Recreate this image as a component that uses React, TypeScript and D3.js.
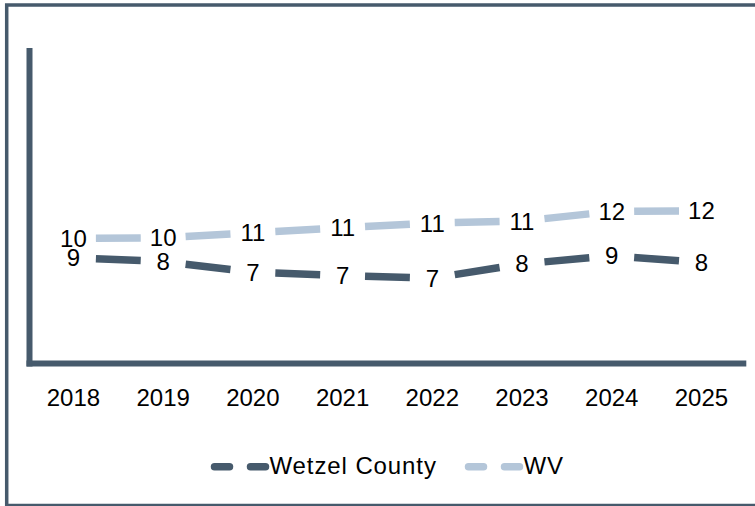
import { useEffect, useRef } from 'react';
import * as d3 from 'd3';

// values, labels show them rounded
const years = ['2018', '2019', '2020', '2021', '2022', '2023', '2024', '2025'];
const wetzel = [8.51, 8.21, 7.35, 7.08, 6.87, 8.02, 8.67, 8.13];
const wv = [10.06, 10.12, 10.52, 10.93, 11.31, 11.47, 12.24, 12.3];
const seriesNames = ['Wetzel County', 'WV'];
const yMax = 25.4;

const DARK = '#465a6c';
const LIGHT = '#b4c6d9';
const FONT = '"Liberation Sans", Arial, sans-serif';

export default function App() {
  const svgRef = useRef<SVGSVGElement>(null);

  useEffect(() => {
    const width = 755;
    const height = 506;
    const svg = d3.select(svgRef.current)
      .attr('width', width)
      .attr('height', height);
    svg.selectAll('*').remove();

    // outer frame, right edge falls outside the picture
    svg.append('rect')
      .attr('x', 6.7).attr('y', 5)
      .attr('width', 770).attr('height', 500.5)
      .attr('fill', 'white')
      .attr('stroke', DARK)
      .attr('stroke-width', 3.5);

    const x = d3.scaleBand()
      .domain(years)
      .range([28.6, 746.3]);
    const cx = (d: string) => (x(d) as number) + x.bandwidth() / 2;

    const y = d3.scaleLinear()
      .domain([0, yMax])
      .range([363.5, 48]);

    // axis lines
    svg.append('line')
      .attr('x1', 29.5).attr('x2', 29.5)
      .attr('y1', y(yMax)).attr('y2', y(0) + 3)
      .attr('stroke', DARK).attr('stroke-width', 6);
    svg.append('line')
      .attr('x1', 26.5).attr('x2', 746.3)
      .attr('y1', y(0)).attr('y2', y(0))
      .attr('stroke', DARK).attr('stroke-width', 6);

    // year labels
    svg.append('g')
      .selectAll('text')
      .data(years)
      .join('text')
      .attr('x', d => cx(d))
      .attr('y', 406)
      .attr('text-anchor', 'middle')
      .attr('font-family', FONT)
      .attr('font-size', 24)
      .attr('fill', '#000')
      .text(d => d);

    const series = [
      { name: seriesNames[0], values: wetzel, color: DARK },
      { name: seriesNames[1], values: wv, color: LIGHT },
    ];

    series.forEach(s => {
      const pts = s.values.map((v, i) => [cx(years[i]), y(v)] as [number, number]);
      const segs = d3.pairs(pts).map(([a, b]) => {
        const fx = d3.interpolateNumber(a[0], b[0]);
        const fy = d3.interpolateNumber(a[1], b[1]);
        return [[fx(0.25), fy(0.25)], [fx(0.75), fy(0.75)]];
      });
      // one dash per segment, like the long-dash line in the picture
      svg.append('g')
        .selectAll('line')
        .data(segs)
        .join('line')
        .attr('x1', d => d[0][0]).attr('y1', d => d[0][1])
        .attr('x2', d => d[1][0]).attr('y2', d => d[1][1])
        .attr('stroke', s.color)
        .attr('stroke-width', 7.5);

      svg.append('g')
        .selectAll('text')
        .data(pts)
        .join('text')
        .attr('x', d => d[0])
        .attr('y', d => d[1] + 8.6)
        .attr('text-anchor', 'middle')
        .attr('font-family', FONT)
        .attr('font-size', 24)
        .attr('fill', '#000')
        .text((d, i) => d3.format('.0f')(s.values[i]));
    });

    // legend
    const legendX = [211, 465];
    series.forEach((s, i) => {
      const g = svg.append('g').attr('transform', `translate(${legendX[i]},466.7)`);
      [[3.5, 18.5], [39.5, 54.5]].forEach(([a, b]) => {
        g.append('line')
          .attr('x1', a).attr('x2', b)
          .attr('y1', 0).attr('y2', 0)
          .attr('stroke', s.color)
          .attr('stroke-width', 7.5)
          .attr('stroke-linecap', 'round');
      });
      g.append('text')
        .attr('x', 58.5)
        .attr('y', 7.5)
        .attr('font-family', FONT)
        .attr('font-size', 24)
        .attr('letter-spacing', 0.9)
        .attr('fill', '#000')
        .text(s.name);
    });
  }, []);

  return (
    <div style={{ position: 'absolute', left: 0, top: 0 }}>
      <svg ref={svgRef} style={{ display: 'block' }}></svg>
    </div>
  );
}
